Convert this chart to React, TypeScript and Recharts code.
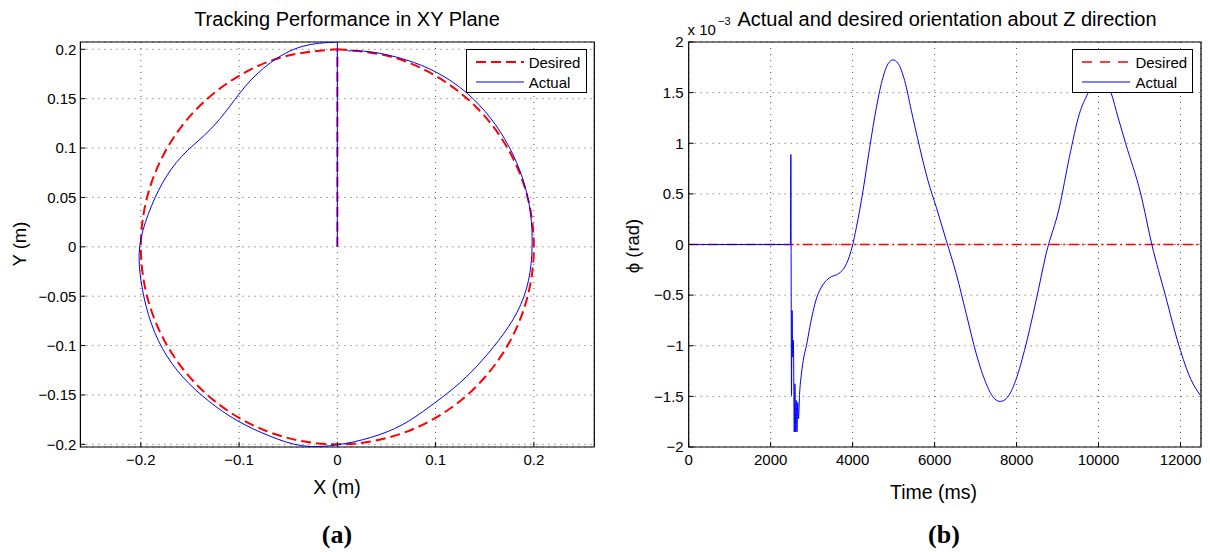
import React from "react";
import {
  LineChart,
  Line,
  XAxis,
  YAxis,
  CartesianGrid,
  ReferenceArea,
  Legend,
} from "recharts";

const FONT = '"Liberation Sans", Arial, Helvetica, sans-serif';

// === (a) tracking in the XY plane, metres ===
const xyTicksX = [-0.2, -0.1, 0, 0.1, 0.2];
const xyTicksY = [-0.2, -0.15, -0.1, -0.05, 0, 0.05, 0.1, 0.15, 0.2];

// start leg up the y axis, then the reference circle clockwise from the top
const desiredXY = [
  { x: 0, y: 0 },
  { x: 0, y: 0.2 },
  { x: 0, y: null },
  { x: 0, y: 0.2 },
  { x: 0.0518, y: 0.1932 },
  { x: 0.1, y: 0.1732 },
  { x: 0.1414, y: 0.1414 },
  { x: 0.1732, y: 0.1 },
  { x: 0.1932, y: 0.0518 },
  { x: 0.2, y: 0 },
  { x: 0.1932, y: -0.0518 },
  { x: 0.1732, y: -0.1 },
  { x: 0.1414, y: -0.1414 },
  { x: 0.1, y: -0.1732 },
  { x: 0.0518, y: -0.1932 },
  { x: 0, y: -0.2 },
  { x: -0.0518, y: -0.1932 },
  { x: -0.1, y: -0.1732 },
  { x: -0.1414, y: -0.1414 },
  { x: -0.1732, y: -0.1 },
  { x: -0.1932, y: -0.0518 },
  { x: -0.2, y: 0 },
  { x: -0.1932, y: 0.0518 },
  { x: -0.1732, y: 0.1 },
  { x: -0.1414, y: 0.1414 },
  { x: -0.1, y: 0.1732 },
  { x: -0.0518, y: 0.1932 },
  { x: 0, y: 0.2 },
];

// start leg, then the measured loop clockwise from just right of the top
const actualXY = [
  { x: 0, y: 0 },
  { x: 0, y: 0.2074 },
  { x: 0, y: null },
  { x: 0.0104, y: 0.1984 },
  { x: 0.0348, y: 0.1973 },
  { x: 0.069, y: 0.1896 },
  { x: 0.1018, y: 0.1762 },
  { x: 0.1311, y: 0.1563 },
  { x: 0.1557, y: 0.1306 },
  { x: 0.1749, y: 0.101 },
  { x: 0.1887, y: 0.0687 },
  { x: 0.1965, y: 0.0346 },
  { x: 0.1982, y: 0 },
  { x: 0.1945, y: -0.0343 },
  { x: 0.1828, y: -0.0665 },
  { x: 0.1641, y: -0.0948 },
  { x: 0.1429, y: -0.1199 },
  { x: 0.1194, y: -0.1423 },
  { x: 0.0936, y: -0.1621 },
  { x: 0.0657, y: -0.1804 },
  { x: 0.034, y: -0.193 },
  { x: 0, y: -0.2005 },
  { x: -0.0353, y: -0.2015 },
  { x: -0.0696, y: -0.1913 },
  { x: -0.1017, y: -0.1761 },
  { x: -0.131, y: -0.1561 },
  { x: -0.1572, y: -0.1319 },
  { x: -0.1781, y: -0.1028 },
  { x: -0.1919, y: -0.0698 },
  { x: -0.1997, y: -0.0352 },
  { x: -0.2012, y: 0 },
  { x: -0.1921, y: 0.0339 },
  { x: -0.1779, y: 0.0647 },
  { x: -0.1585, y: 0.0915 },
  { x: -0.135, y: 0.1133 },
  { x: -0.1142, y: 0.1361 },
  { x: -0.0938, y: 0.1624 },
  { x: -0.0679, y: 0.1865 },
  { x: -0.0358, y: 0.2029 },
  { x: 0, y: 0.2074 },
];

// === (b) orientation about Z, phi in units of 1e-3 rad ===
const timeTicks = [0, 2000, 4000, 6000, 8000, 10000, 12000];
const phiTicks = [-2, -1.5, -1, -0.5, 0, 0.5, 1, 1.5, 2];

const desiredPhi = [
  { t: 0, phi: 0 },
  { t: 12500, phi: 0 },
];

const actualPhi = [
  { t: 0, phi: 0 },
  { t: 2484, phi: 0 },
  { t: 2492, phi: 0.889 },
  { t: 2508, phi: -1.491 },
  { t: 2522, phi: -0.651 },
  { t: 2538, phi: -1.112 },
  { t: 2555, phi: -0.948 },
  { t: 2575, phi: -1.852 },
  { t: 2592, phi: -1.376 },
  { t: 2610, phi: -1.852 },
  { t: 2625, phi: -1.54 },
  { t: 2642, phi: -1.852 },
  { t: 2660, phi: -1.56 },
  { t: 2680, phi: -1.72 },
  { t: 2705, phi: -1.48 },
  { t: 2750, phi: -1.28 },
  { t: 2810, phi: -1.11 },
  { t: 2873, phi: -1.0 },
  { t: 2954, phi: -0.82 },
  { t: 3035, phi: -0.66 },
  { t: 3120, phi: -0.53 },
  { t: 3240, phi: -0.42 },
  { t: 3360, phi: -0.355 },
  { t: 3480, phi: -0.318 },
  { t: 3600, phi: -0.3 },
  { t: 3700, phi: -0.275 },
  { t: 3850, phi: -0.19 },
  { t: 3990, phi: -0.02 },
  { t: 4093, phi: 0.171 },
  { t: 4254, phi: 0.533 },
  { t: 4417, phi: 0.96 },
  { t: 4580, phi: 1.355 },
  { t: 4741, phi: 1.652 },
  { t: 4863, phi: 1.784 },
  { t: 4985, phi: 1.823 },
  { t: 5106, phi: 1.79 },
  { t: 5269, phi: 1.619 },
  { t: 5432, phi: 1.323 },
  { t: 5635, phi: 0.96 },
  { t: 5837, phi: 0.632 },
  { t: 6041, phi: 0.368 },
  { t: 6285, phi: 0.039 },
  { t: 6528, phi: -0.289 },
  { t: 6772, phi: -0.684 },
  { t: 7016, phi: -1.079 },
  { t: 7259, phi: -1.375 },
  { t: 7461, phi: -1.523 },
  { t: 7600, phi: -1.55 },
  { t: 7747, phi: -1.523 },
  { t: 7949, phi: -1.375 },
  { t: 8193, phi: -1.046 },
  { t: 8477, phi: -0.553 },
  { t: 8721, phi: -0.092 },
  { t: 9045, phi: 0.368 },
  { t: 9288, phi: 0.862 },
  { t: 9532, phi: 1.29 },
  { t: 9734, phi: 1.488 },
  { t: 9900, phi: 1.61 },
  { t: 10040, phi: 1.66 },
  { t: 10180, phi: 1.61 },
  { t: 10304, phi: 1.5 },
  { t: 10480, phi: 1.25 },
  { t: 10660, phi: 1.0 },
  { t: 11030, phi: 0.5 },
  { t: 11300, phi: 0.0 },
  { t: 11629, phi: -0.5 },
  { t: 11963, phi: -1.0 },
  { t: 12250, phi: -1.33 },
  { t: 12485, phi: -1.49 },
];

const seriesOrder = ["Desired", "Actual"];

const fmt = (v: number) => (v < 0 ? `\u2212${-v}` : `${v}`);

const tickStyle = { fill: "#000", fontSize: 15, fontFamily: FONT };

function LegendBox({ payload, dashes, widths }: { payload?: any[]; dashes: Record<string, string | undefined>; widths: Record<string, number> }) {
  const items = [...(payload || [])].sort(
    (a: any, b: any) => seriesOrder.indexOf(a.value) - seriesOrder.indexOf(b.value)
  );
  return (
    <div
      style={{
        border: "1px solid #000",
        background: "#fff",
        width: 121,
        height: 44,
        boxSizing: "border-box",
        paddingTop: 2,
        fontFamily: FONT,
      }}
    >
      {items.map((p: any) => (
        <div key={p.value} style={{ display: "flex", alignItems: "center", height: 20 }}>
          <svg width={57} height={10} style={{ display: "block" }}>
            <line
              x1={9}
              x2={57}
              y1={5}
              y2={5}
              stroke={p.color}
              strokeWidth={widths[p.value] || 1}
              strokeDasharray={dashes[p.value]}
            />
          </svg>
          <span style={{ fontSize: 15, marginLeft: 5, color: "#000" }}>{p.value}</span>
        </div>
      ))}
    </div>
  );
}

function XYPlot() {
  const xd: [number, number] = [-0.2615, 0.2615];
  const yd: [number, number] = [-0.2027, 0.2074];
  return (
    <LineChart width={600} height={552} margin={{ top: 42, right: 5.7, bottom: 75, left: 0 }}>
      <CartesianGrid stroke="#555" strokeDasharray="1 5" />
      <XAxis
        type="number"
        dataKey="x"
        domain={xd}
        ticks={xyTicksX}
        interval={0}
        allowDataOverflow
        height={30}
        tickSize={-5}
        tickMargin={12}
        axisLine={false}
        tickLine={{ stroke: "#000" }}
        tick={tickStyle}
        tickFormatter={fmt}
      />
      <XAxis
        xAxisId="top"
        orientation="top"
        type="number"
        domain={xd}
        ticks={xyTicksX}
        interval={0}
        height={0}
        tickSize={-5}
        axisLine={false}
        tickLine={{ stroke: "#000" }}
        tick={false}
      />
      <YAxis
        type="number"
        domain={yd}
        ticks={xyTicksY}
        interval={0}
        allowDataOverflow
        width={80.4}
        tickSize={-5}
        tickMargin={9}
        axisLine={false}
        tickLine={{ stroke: "#000" }}
        tick={tickStyle}
        tickFormatter={fmt}
      />
      <YAxis
        yAxisId="right"
        orientation="right"
        type="number"
        domain={yd}
        ticks={xyTicksY}
        interval={0}
        width={0}
        tickSize={-5}
        axisLine={false}
        tickLine={{ stroke: "#000" }}
        tick={false}
      />
      <Line
        data={desiredXY}
        dataKey="y"
        name="Desired"
        type="natural"
        stroke="#ff0000"
        strokeWidth={2}
        strokeDasharray="10 5"
        dot={false}
        activeDot={false}
        isAnimationActive={false}
      />
      <Line
        data={actualXY}
        dataKey="y"
        name="Actual"
        type="natural"
        stroke="#0000ff"
        strokeWidth={1}
        dot={false}
        activeDot={false}
        isAnimationActive={false}
      />
      <ReferenceArea x1={xd[0]} x2={xd[1]} y1={yd[0]} y2={yd[1]} fill="none" stroke="#000" strokeWidth={1.2} />
      <Legend
        layout="vertical"
        align="center"
        verticalAlign="middle"
        wrapperStyle={{ position: "absolute", left: 465.7, top: 49.3, width: 121, height: 44 }}
        content={(props: any) => (
          <LegendBox payload={props.payload} dashes={{ Desired: "10 5" }} widths={{ Desired: 2, Actual: 1.2 }} />
        )}
      />
    </LineChart>
  );
}

function PhiPlot() {
  const xd: [number, number] = [0, 12500];
  const yd: [number, number] = [-2, 2];
  return (
    <LineChart width={610} height={552} margin={{ top: 42, right: 9, bottom: 75, left: 0 }}>
      <CartesianGrid stroke="#555" strokeDasharray="1 5" />
      <XAxis
        type="number"
        dataKey="t"
        domain={xd}
        ticks={timeTicks}
        interval={0}
        allowDataOverflow
        height={30}
        tickSize={-5}
        tickMargin={12}
        axisLine={false}
        tickLine={{ stroke: "#000" }}
        tick={tickStyle}
      />
      <XAxis
        xAxisId="top"
        orientation="top"
        type="number"
        domain={xd}
        ticks={timeTicks}
        interval={0}
        height={0}
        tickSize={-5}
        axisLine={false}
        tickLine={{ stroke: "#000" }}
        tick={false}
      />
      <YAxis
        type="number"
        domain={yd}
        ticks={phiTicks}
        interval={0}
        allowDataOverflow
        width={88.7}
        tickSize={-5}
        tickMargin={10}
        axisLine={false}
        tickLine={{ stroke: "#000" }}
        tick={tickStyle}
        tickFormatter={fmt}
      />
      <YAxis
        yAxisId="right"
        orientation="right"
        type="number"
        domain={yd}
        ticks={phiTicks}
        interval={0}
        width={0}
        tickSize={-5}
        axisLine={false}
        tickLine={{ stroke: "#000" }}
        tick={false}
      />
      <Line
        data={desiredPhi}
        dataKey="phi"
        name="Desired"
        type="linear"
        stroke="#ff0000"
        strokeWidth={1.3}
        strokeDasharray="10 3.5 2 3.5"
        dot={false}
        activeDot={false}
        isAnimationActive={false}
      />
      <Line
        data={actualPhi}
        dataKey="phi"
        name="Actual"
        type="monotone"
        stroke="#0000ff"
        strokeWidth={1}
        dot={false}
        activeDot={false}
        isAnimationActive={false}
      />
      <ReferenceArea x1={xd[0]} x2={xd[1]} y1={yd[0]} y2={yd[1]} fill="none" stroke="#000" strokeWidth={1.2} />
      <Legend
        layout="vertical"
        align="center"
        verticalAlign="middle"
        wrapperStyle={{ position: "absolute", left: 472.4, top: 49, width: 121, height: 44 }}
        content={(props: any) => (
          <LegendBox payload={props.payload} dashes={{ Desired: "10 8" }} widths={{ Desired: 1.3, Actual: 1.2 }} />
        )}
      />
    </LineChart>
  );
}

export default function App() {
  return (
    <div style={{ position: "absolute", left: 0, top: 0, width: 1210, height: 552, background: "#fff" }}>
      <div style={{ position: "absolute", left: 0, top: 0 }}>
        <XYPlot />
      </div>
      <div style={{ position: "absolute", left: 600, top: 0 }}>
        <PhiPlot />
      </div>
      <svg
        width={1210}
        height={552}
        style={{ position: "absolute", left: 0, top: 0, pointerEvents: "none" }}
        fontFamily={FONT}
        fill="#000"
      >
        <text x={347} y={26} fontSize={20} textAnchor="middle">
          Tracking Performance in XY Plane
        </text>
        <text x={947} y={26} fontSize={20} textAnchor="middle">
          Actual and desired orientation about Z direction
        </text>
        <text x={687.5} y={35} fontSize={15}>
          x 10
        </text>
        <text x={718} y={25} fontSize={11}>
          {"\u22123"}
        </text>
        <text x={337} y={494} fontSize={19.5} textAnchor="middle">
          X (m)
        </text>
        <text x={933.5} y={498.5} fontSize={19.5} textAnchor="middle">
          Time (ms)
        </text>
        <text x={25.5} y={244} fontSize={18.5} textAnchor="middle" transform="rotate(-90 25.5 244)">
          Y (m)
        </text>
        <text x={639} y={246} fontSize={18.5} textAnchor="middle" transform="rotate(-90 639 246)">
          {"\u03d5 (rad)"}
        </text>
        <text x={337} y={543} fontSize={26} fontWeight="bold" textAnchor="middle" fontFamily='"Liberation Serif", "Times New Roman", serif'>
          (a)
        </text>
        <text x={944} y={543} fontSize={26} fontWeight="bold" textAnchor="middle" fontFamily='"Liberation Serif", "Times New Roman", serif'>
          (b)
        </text>
      </svg>
    </div>
  );
}
